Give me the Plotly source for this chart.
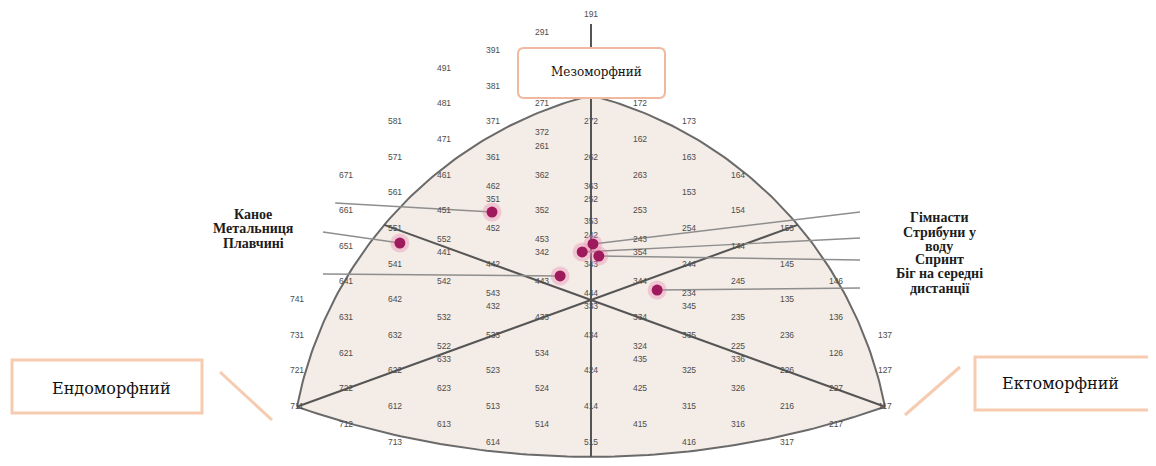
import numpy as np
import plotly.graph_objects as go
from collections import OrderedDict

# page body has an 8px margin, so the figure is drawn 8px smaller and shifted
OFF = 8
W, H = 1156 - OFF, 466 - OFF

# ---------------- data ----------------
# Somatotype ratings printed on the somatochart (endo, meso, ecto)
codes_left = ["191", "291", "391", "491", "381", "481", "581", "271", "371", "471",
              "571", "671", "561", "661", "461", "361", "372", "261", "462", "351",
              "362", "451", "352", "452", "551", "651", "552", "441", "453", "342",
              "442", "443", "541", "542", "641", "741", "642", "543", "432", "631",
              "532", "433", "731", "632", "533", "522", "633", "621", "534", "721",
              "622", "523", "722", "623", "524", "711", "612", "513", "712", "613",
              "514", "713", "614"]
codes_axis = ["272", "262", "363", "252", "353", "242", "343", "444", "333",
              "434", "424", "414", "515"]
codes_right = ["172", "173", "162", "163", "263", "164", "153", "253", "154", "254",
               "155", "243", "354", "144", "244", "145", "344", "245", "146", "234",
               "345", "135", "235", "136", "137", "334", "335", "236", "324", "435",
               "225", "336", "126", "325", "226", "127", "425", "326", "227", "315",
               "216", "117", "415", "316", "217", "416", "317"]

# Mean somatotypes of sport groups (somatochart X, Y)
groups_left = ["Каное", "Метальниця", "Плавчині"]
dots_left_x = [-2.02, -3.90, -0.63]
dots_left_y = [4.94, 3.20, 1.35]
groups_right = ["Гімнасти", "Стрибуни у", "воду", "Спринт", "Біг на середні", "дистанції"]
dots_right_x = [0.04, -0.18, 0.16, 1.35]
dots_right_y = [3.15, 2.70, 2.47, 0.56]

axis_names = ["Мезоморфний", "Ендоморфний", "Ектоморфний"]

# ---------------- geometry helpers ----------------
SX, SY = 49.0, 17.8          # printed chart aspect (pixels per unit)
X0_PX, Y0_PX = 591 - OFF, 300 - OFF
xr = [-X0_PX / SX, (W - X0_PX) / SX]
yr = [(Y0_PX - H) / SY, Y0_PX / SY]


def soma_xy(code):
    en, me, ec = (int(c) for c in code)
    return ec - en, 2 * me - en - ec


def px(x):
    return (x - OFF) / W


def py(y):
    return 1 - (y - OFF) / H


TOP, LEFT, RIGHT = (0.0, 11.5), (-6.0, -6.0), (6.0, -6.0)


def arc(A, B, sag, n=90):
    ax, ay = A[0] * SX, A[1] * SY
    bx, by = B[0] * SX, B[1] * SY
    dx, dy = bx - ax, by - ay
    c = np.hypot(dx, dy)
    nx, ny = -dy / c, dx / c
    r = (c * c / 4 + sag ** 2) / (2 * sag)
    mx, my = (ax + bx) / 2, (ay + by) / 2
    cx, cy = mx + nx * (sag - r), my + ny * (sag - r)
    a0 = np.arctan2(ay - cy, ax - cx)
    a1 = np.arctan2(by - cy, bx - cx)
    d = (a1 - a0 + np.pi) % (2 * np.pi) - np.pi
    ang = a0 + d * np.linspace(0, 1, n)
    return (cx + r * np.cos(ang)) / SX, (cy + r * np.sin(ang)) / SY, (cx, cy, r)


def ray_hit(ux, uy, circ):
    cx, cy, r = circ
    vx, vy = ux * SX, uy * SY
    uu = vx * vx + vy * vy
    uc = vx * cx + vy * cy
    cc = cx * cx + cy * cy
    t = (uc + np.sqrt(uc * uc - uu * (cc - r * r))) / uu
    return ux * t, uy * t


lax, lay, lc = arc(LEFT, TOP, 62)
rax, ray, rc = arc(TOP, RIGHT, 62)
bax, bay, bc = arc(RIGHT, LEFT, 50)

fig = go.Figure()

# filled somatochart region
fig.add_trace(go.Scatter(
    x=np.concatenate([lax, rax, bax]), y=np.concatenate([lay, ray, bay]),
    fill="toself", fillcolor="#f4ece6", mode="lines", line=dict(width=0),
    hoverinfo="skip", showlegend=False))

# arcs
for xs, ys in [(lax, lay), (rax, ray), (bax, bay)]:
    fig.add_trace(go.Scatter(x=xs, y=ys, mode="lines",
                             line=dict(color="#6a6a6a", width=2),
                             hoverinfo="skip", showlegend=False))

# axes from the centre
ulx, uly = ray_hit(-1, 1, lc)
urx, ury = ray_hit(1, 1, rc)
dbx, dby = ray_hit(0, -1, bc)
ax_x = [0, 0, None, 0, ulx, None, 0, urx, None, 0, LEFT[0], None, 0, RIGHT[0]]
ax_y = [15.5, dby, None, 0, uly, None, 0, ury, None, 0, LEFT[1], None, 0, RIGHT[1]]
fig.add_trace(go.Scatter(x=ax_x, y=ax_y, mode="lines",
                         line=dict(color="#555555", width=2),
                         hoverinfo="skip", showlegend=False))

# pointer lines from group labels to the group dots
anchor_left = [(-5.22, 5.45), (-5.47, 3.82), (-5.47, 1.46)]
anchor_right = [(5.49, 4.94), (5.49, 3.48), (5.49, 2.25), (5.49, 0.67)]
pl_x, pl_y = [], []
for (ax_, ay_), dx_, dy_ in zip(anchor_left, dots_left_x, dots_left_y):
    pl_x += [ax_, dx_, None]
    pl_y += [ay_, dy_, None]
for (ax_, ay_), dx_, dy_ in zip(anchor_right, dots_right_x, dots_right_y):
    pl_x += [ax_, dx_, None]
    pl_y += [ay_, dy_, None]
fig.add_trace(go.Scatter(x=pl_x, y=pl_y, mode="lines",
                         line=dict(color="#8e8e8e", width=1.4),
                         hoverinfo="skip", showlegend=False))

# somatotype labels (stack duplicates sharing a position)
grp = OrderedDict()
for c in codes_left + codes_axis + codes_right:
    grp.setdefault(soma_xy(c), []).append(c)
STEP = 0.74
lx, ly, lt = [], [], []
for (X, Y), cs in grp.items():
    n = len(cs)
    for i, c in enumerate(cs):
        lx.append(X)
        ly.append(Y + (n - 1) / 2 * STEP - i * STEP)
        lt.append(c)
fig.add_trace(go.Scatter(x=lx, y=ly, text=lt, mode="text",
                         textfont=dict(family="Liberation Sans", size=8.5, color="#4d4d4d"),
                         hoverinfo="skip", showlegend=False))

# group dots
dx_all = dots_left_x + dots_right_x
dy_all = dots_left_y + dots_right_y
fig.add_trace(go.Scatter(x=dx_all, y=dy_all, mode="markers",
                         marker=dict(size=19, color="rgba(235,130,175,0.35)"),
                         hoverinfo="skip", showlegend=False))
fig.add_trace(go.Scatter(x=dx_all, y=dy_all, mode="markers",
                         marker=dict(size=11, color="#9e1a5c"),
                         hoverinfo="skip", showlegend=False))

# ---------------- boxes & texts ----------------
shapes = []
x0, x1, y0, y1, rr = px(518), px(665), py(98), py(48), 6
rxp, ryp = rr / W, rr / H
path = (f"M {x0+rxp},{y1} L {x1-rxp},{y1} Q {x1},{y1} {x1},{y1-ryp} "
        f"L {x1},{y0+ryp} Q {x1},{y0} {x1-rxp},{y0} L {x0+rxp},{y0} "
        f"Q {x0},{y0} {x0},{y0+ryp} L {x0},{y1-ryp} Q {x0},{y1} {x0+rxp},{y1} Z")
shapes.append(dict(type="path", xref="paper", yref="paper", path=path,
                   fillcolor="white", line=dict(color="#f0b89f", width=2)))
shapes.append(dict(type="rect", xref="paper", yref="paper",
                   x0=px(12), x1=px(202), y0=py(413), y1=py(360),
                   fillcolor="white", line=dict(color="#f6cbb0", width=3)))
shapes.append(dict(type="rect", xref="paper", yref="paper",
                   x0=px(975), x1=px(1154), y0=py(410), y1=py(357),
                   fillcolor="white", line=dict(color="#f6cbb0", width=3)))
shapes.append(dict(type="line", xref="paper", yref="paper",
                   x0=px(220), y0=py(372), x1=px(272), y1=py(420),
                   line=dict(color="#f6cbb0", width=3)))
shapes.append(dict(type="line", xref="paper", yref="paper",
                   x0=px(905), y0=py(415), x1=px(960), y1=py(367),
                   line=dict(color="#f6cbb0", width=3)))


def note(x, y, text, font):
    return dict(x=px(x), y=py(y), text=text, showarrow=False, xref="paper", yref="paper",
                xanchor="center", yanchor="middle", font=font)


ann = []
serif = "DejaVu Serif"
ann.append(note(596, 72, axis_names[0], dict(family=serif, size=12, color="#111")))
ann.append(note(111, 388, axis_names[1], dict(family=serif, size=16, color="#111")))
ann.append(note(1060, 383, axis_names[2], dict(family=serif, size=16, color="#111")))

bold = dict(family="Liberation Serif", size=14, color="#1c1c1c")
for t, yy in zip(groups_left, [214, 229, 243]):
    ann.append(note(253, yy, f"<b>{t}</b>", bold))
for t, yy in zip(groups_right, [217, 232, 246, 259, 273, 288]):
    ann.append(note(939, yy, f"<b>{t}</b>", bold))

fig.update_layout(
    width=W, height=H, margin=dict(l=0, r=0, t=0, b=0),
    paper_bgcolor="white", plot_bgcolor="white",
    xaxis=dict(range=xr, visible=False, fixedrange=True),
    yaxis=dict(range=yr, visible=False, fixedrange=True),
    shapes=shapes, annotations=ann, showlegend=False)

fig.write_html("out.html")
